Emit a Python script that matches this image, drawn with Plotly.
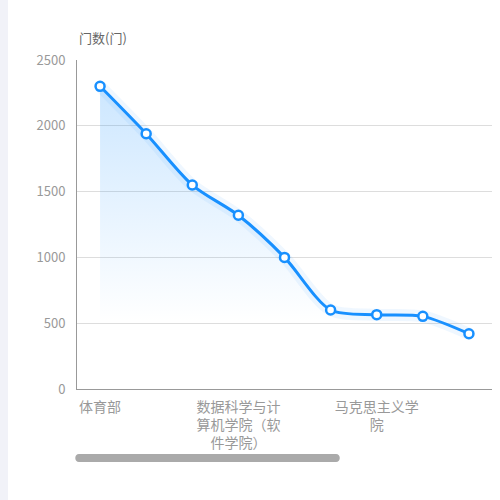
import plotly.graph_objects as go

colleges = [
    "体育部",
    "外国语学院",
    "数学学院",
    "数据科学与计算机学院（软件学院）",
    "中国语言文学系",
    "管理学院",
    "马克思主义学院",
    "物理学院",
    "化学学院",
]
course_counts = [2300, 1940, 1550, 1320, 1000, 600, 565, 552, 420]

shown_ticks = [colleges[0], colleges[3], colleges[6]]
shown_text = ["体育部", "数据科学与计<br>算机学院（软<br>件学院）", "马克思主义学<br>院"]

blue = "#1890ff"

# plot area in pixels: x 77..492, y 60..389
L, T = 77, 60
PW, PH = 415, 329


def px_x(v):
    return (v - L) / PW


def px_y(v):
    return (T + PH - v) / PH


fig = go.Figure()

# soft shadow under the line
fig.add_trace(go.Scatter(
    x=colleges, y=course_counts, mode="lines",
    line=dict(color="rgba(24,144,255,0.07)", width=12, shape="spline", smoothing=0.8),
    hoverinfo="skip", showlegend=False,
))

fig.add_trace(go.Scatter(
    x=colleges, y=course_counts,
    mode="lines+markers",
    line=dict(color=blue, width=3, shape="spline", smoothing=0.8),
    marker=dict(size=9, color="white", line=dict(color=blue, width=2.5)),
    fill="tozeroy",
    fillgradient=dict(
        type="vertical",
        start=0, stop=2300,
        colorscale=[[0, "rgba(24,144,255,0)"], [0.22, "rgba(24,144,255,0)"],
                    [1, "rgba(24,144,255,0.22)"]],
    ),
    showlegend=False,
))

# scroll bar (rounded rect) from x 75..340, y 454..462
bar = (f"M {px_x(79)},{px_y(454)} L {px_x(336)},{px_y(454)} "
       f"C {px_x(341)},{px_y(454)} {px_x(341)},{px_y(462)} {px_x(336)},{px_y(462)} "
       f"L {px_x(79)},{px_y(462)} "
       f"C {px_x(74)},{px_y(462)} {px_x(74)},{px_y(454)} {px_x(79)},{px_y(454)} Z")

fig.update_layout(
    width=500, height=500,
    margin=dict(l=L, r=8, t=T, b=500 - T - PH),
    paper_bgcolor="white", plot_bgcolor="white",
    font=dict(family="Noto Sans CJK SC", size=13, color="#999"),
    xaxis=dict(
        type="category",
        tickmode="array", tickvals=shown_ticks, ticktext=shown_text,
        showgrid=False, showline=True, linecolor="#999", linewidth=1,
        ticks="", tickfont=dict(color="#999", size=14),
        range=[-0.5, len(colleges) - 0.5],
        tickangle=0, ticklabelstandoff=5,
    ),
    yaxis=dict(
        range=[0, 2500], dtick=500,
        showgrid=True, gridcolor="#ddd", gridwidth=1,
        showline=True, linecolor="#999", linewidth=1,
        zeroline=False, ticks="",
        tickfont=dict(color="#999", size=13),
        ticklabelstandoff=8,
    ),
    annotations=[dict(
        text="门数(门)", xref="paper", yref="paper",
        x=0, y=px_y(37), xanchor="left", yanchor="middle",
        showarrow=False, font=dict(color="#666", size=13),
    )],
    shapes=[
        # left page strip
        dict(type="rect", xref="paper", yref="paper",
             x0=px_x(0), x1=px_x(8), y0=px_y(500), y1=px_y(0),
             fillcolor="#f1f2f8", line=dict(width=0), layer="below"),
        dict(type="path", xref="paper", yref="paper", path=bar,
             fillcolor="#aaaaaa", line=dict(width=0)),
    ],
)

fig.write_html("out.html", config={"displayModeBar": False},
               post_script="document.body.style.margin='0';")
